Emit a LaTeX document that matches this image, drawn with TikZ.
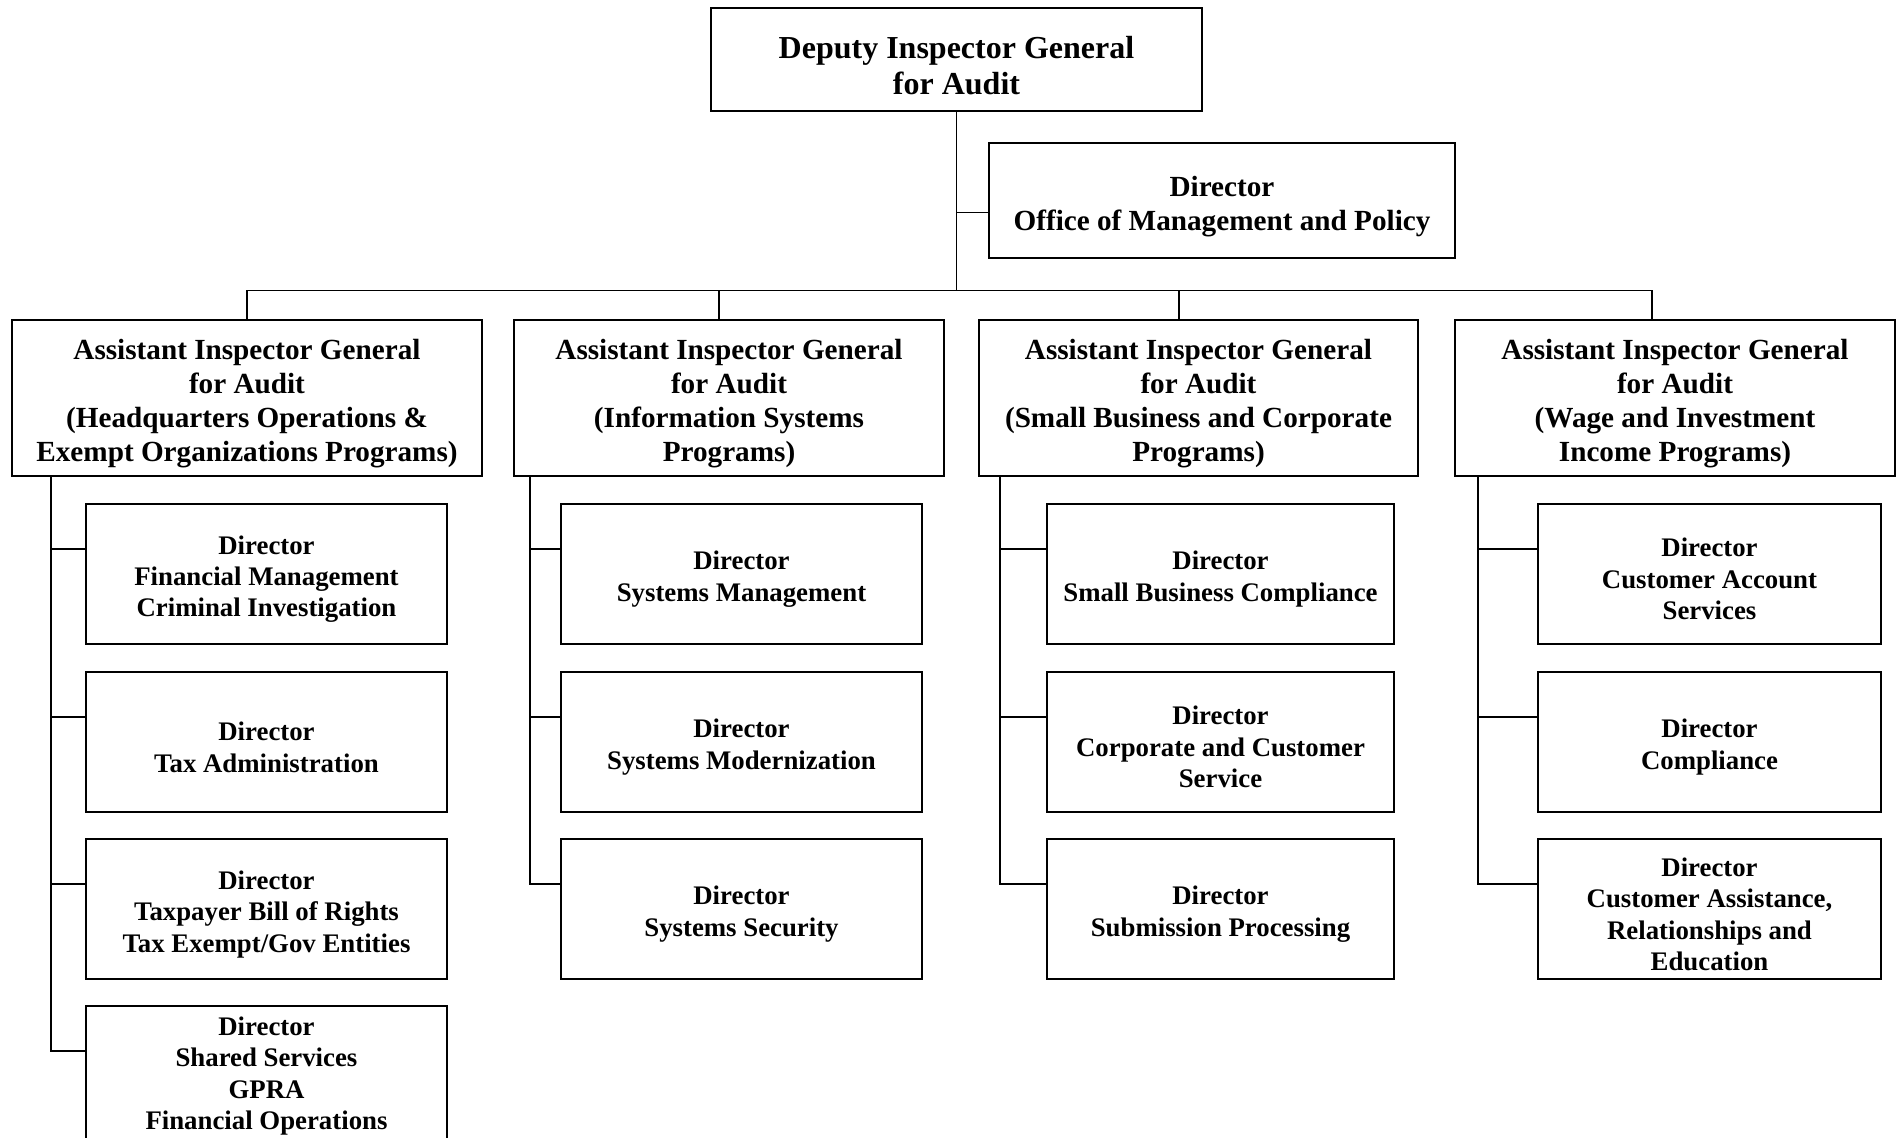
\documentclass[tikz,border=0pt]{standalone}
\usepackage{fontspec}
\setmainfont{Liberation Serif}
\usetikzlibrary{positioning,calc}
\tikzset{
  box/.style={
    draw=black,
    line width=0.9pt,
    fill=white,
    align=center,
    inner sep=0pt
  },
  chief/.style={box, minimum width=245.5pt, minimum height=51.5pt,
    font=\fontsize{16}{18}\selectfont\bfseries},
  aigbox/.style={box, minimum height=78pt,
    font=\fontsize{14.6}{17}\selectfont\bfseries},
  dirbox/.style={box, minimum height=70pt,
    font=\fontsize{13.4}{15.7}\selectfont\bfseries},
  link/.style={line width=0.6pt}
}
% strut on the first line: pushes the text block a little down in its box
\newcommand{\lift}{\rule{0pt}{1.08em}}
\newcommand{\dirlink}[2]{\draw[link] ([yshift=12.5pt]#2.west) -- ([yshift=12.5pt]#2.west -| #1);}

\begin{document}
\begin{tikzpicture}[x=0.5pt, y=-0.5pt]
  \useasboundingbox (0,0) rectangle (1896,1138);

  % -------------------------------------------------------------------
  % top level
  % -------------------------------------------------------------------
  \node[chief] (dig) at (956.5,59.5) {\lift Deputy Inspector General\\for Audit};
  \node[aigbox, minimum width=233pt, minimum height=57.5pt] (omp) at (1222,200.5)
    {\lift Director\\Office of Management and Policy};
  \draw[link] (dig.south) -- ++(0,179) coordinate (bus);
  \draw[link] ([yshift=-6pt]omp.west) -- ([yshift=-6pt]omp.west -| bus);

  % -------------------------------------------------------------------
  % assistant inspectors general
  % -------------------------------------------------------------------
  \node[aigbox, minimum width=235pt] (aig1) at (247,398)
    {\lift Assistant Inspector General\\for Audit\\(Headquarters Operations \&\\Exempt Organizations Programs)};
  \node[aigbox, minimum width=215pt] (aig2) at (729,398)
    {\lift Assistant Inspector General\\for Audit\\(Information Systems\\Programs)};
  \node[aigbox, minimum width=219.5pt] (aig3) at (1198.5,398)
    {\lift Assistant Inspector General\\for Audit\\(Small Business and Corporate\\Programs)};
  \node[aigbox, minimum width=220pt] (aig4) at (1675,398)
    {\lift Assistant Inspector General\\for Audit\\(Wage and Investment\\Income Programs)};
  \draw[link] (aig1.north) |- (bus) -| ([xshift=-11.5pt]aig4.north);
  \draw[link] ([xshift=-5pt]aig2.north) -- ([xshift=-5pt]aig2.north |- bus);
  \draw[link] ([xshift=-9.75pt]aig3.north) -- ([xshift=-9.75pt]aig3.north |- bus);

  % -------------------------------------------------------------------
  % Headquarters Operations
  % -------------------------------------------------------------------
  \coordinate (sp1) at (51,0);
  \node[dirbox, minimum width=180.5pt] (d11) at (266.5,574) {\lift Director\\Financial Management\\Criminal Investigation};
  \node[dirbox, minimum width=180.5pt] (d12) at (266.5,742) {\lift Director\\Tax Administration};
  \node[dirbox, minimum width=180.5pt] (d13) at (266.5,909) {\lift Director\\Taxpayer Bill of Rights\\Tax Exempt/Gov Entities};
  \node[dirbox, minimum width=180.5pt] (d14) at (266.5,1076) {Director\\Shared Services\\GPRA\\Financial Operations};
  \draw[link] (aig1.south -| sp1) |- ([yshift=12.5pt]d14.west);
  \dirlink{sp1}{d11}
  \dirlink{sp1}{d12}
  \dirlink{sp1}{d13}

  % -------------------------------------------------------------------
  % Information Systems
  % -------------------------------------------------------------------
  \coordinate (sp2) at (530,0);
  \node[dirbox, minimum width=180.5pt] (d21) at (741.5,574) {\lift Director\\Systems Management};
  \node[dirbox, minimum width=180.5pt] (d22) at (741.5,742) {\lift Director\\Systems Modernization};
  \node[dirbox, minimum width=180.5pt] (d23) at (741.5,909) {\lift Director\\Systems Security};
  \draw[link] (aig2.south -| sp2) |- ([yshift=12.5pt]d23.west);
  \dirlink{sp2}{d21}
  \dirlink{sp2}{d22}

  % -------------------------------------------------------------------
  % Small Business and Corporate
  % -------------------------------------------------------------------
  \coordinate (sp3) at (1000,0);
  \node[dirbox, minimum width=173.5pt] (d31) at (1220.5,574) {\lift Director\\Small Business Compliance};
  \node[dirbox, minimum width=173.5pt] (d32) at (1220.5,742) {\lift Director\\Corporate and Customer\\Service};
  \node[dirbox, minimum width=173.5pt] (d33) at (1220.5,909) {\lift Director\\Submission Processing};
  \draw[link] (aig3.south -| sp3) |- ([yshift=12.5pt]d33.west);
  \dirlink{sp3}{d31}
  \dirlink{sp3}{d32}

  % -------------------------------------------------------------------
  % Wage and Investment
  % -------------------------------------------------------------------
  \coordinate (sp4) at (1478,0);
  \node[dirbox, minimum width=171.5pt] (d41) at (1709.5,574) {\lift Director\\Customer Account\\Services};
  \node[dirbox, minimum width=171.5pt] (d42) at (1709.5,742) {\lift Director\\Compliance};
  \node[dirbox, minimum width=171.5pt] (d43) at (1709.5,909) {\lift Director\\Customer Assistance,\\Relationships and\\Education};
  \draw[link] (aig4.south -| sp4) |- ([yshift=12.5pt]d43.west);
  \dirlink{sp4}{d41}
  \dirlink{sp4}{d42}

\end{tikzpicture}
\end{document}
